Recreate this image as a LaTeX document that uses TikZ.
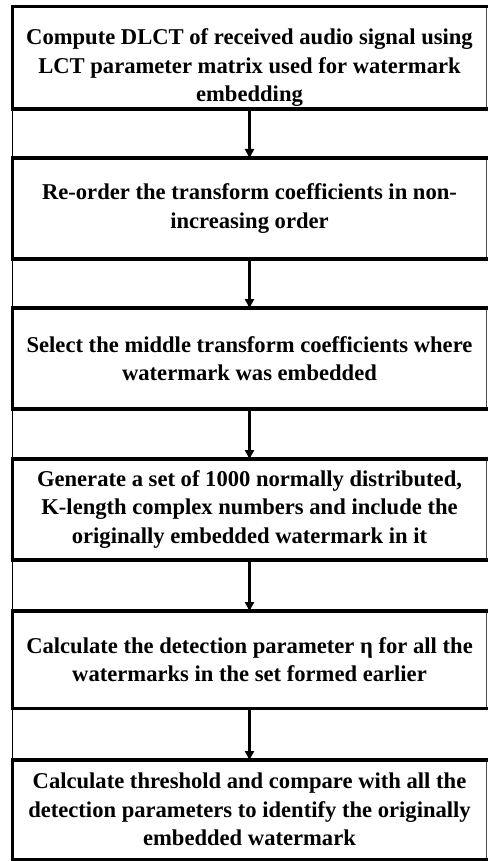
\documentclass[tikz,border=0pt]{standalone}
\usepackage{fontspec}
\setmainfont{Liberation Serif}
\usetikzlibrary{arrows.meta}
\begin{document}
\begin{tikzpicture}[x=1pt,y=1pt,
  stepbox/.style={draw=black!70, line width=1pt, minimum width=473pt,
    inner sep=0pt, align=center,
    font=\fontsize{22.6}{28.5}\selectfont\bfseries},
  heavyedge/.style={line width=3.6pt, line cap=rect},
  sideline/.style={line width=1.4pt},
  flow/.style={line width=2.6pt, -{Triangle[width=9pt,length=9pt]}}]
\useasboundingbox (0,0) rectangle (487,-861);

\node[stepbox, minimum height=101.5pt] (b1) at (249.5,-57.75)
  {\rule{0pt}{36pt}Compute DLCT of received audio signal using\\LCT parameter matrix used for watermark\\embedding};
\node[stepbox, minimum height=100pt] (b2) at (249.5,-208.5)
  {Re-order the transform coefficients in non-\\increasing order};
\node[stepbox, minimum height=100pt] (b3) at (249.5,-358.5)
  {Select the middle transform coefficients where\\watermark was embedded};
\node[stepbox, minimum height=100pt] (b4) at (249.5,-509.5)
  {Generate a set of 1000 normally distributed,\\K-length complex numbers and include the\\originally embedded watermark in it};
\node[stepbox, minimum height=96.5pt] (b5) at (249.5,-659.75)
  {Calculate the detection parameter η for all the\\watermarks in the set formed earlier};
\node[stepbox, minimum height=98.5pt] (b6) at (249.5,-809.75)
  {Calculate threshold and compare with all the\\detection parameters to identify the originally\\embedded watermark};

% heavy top, left and bottom edges of every box
\foreach \b in {b1,b2,b3,b4,b5,b6}
  \draw[heavyedge] (\b.north east) -- (\b.north west) -- (\b.south west) -- (\b.south east);

% thin left rule between boxes, and the arrows
\foreach \a/\b in {b1/b2,b2/b3,b3/b4,b4/b5,b5/b6} {
  \draw[sideline] (\a.south west) -- (\b.north west);
  \draw[flow] (\a.south) -- (\b.north);
}
\end{tikzpicture}
\end{document}
